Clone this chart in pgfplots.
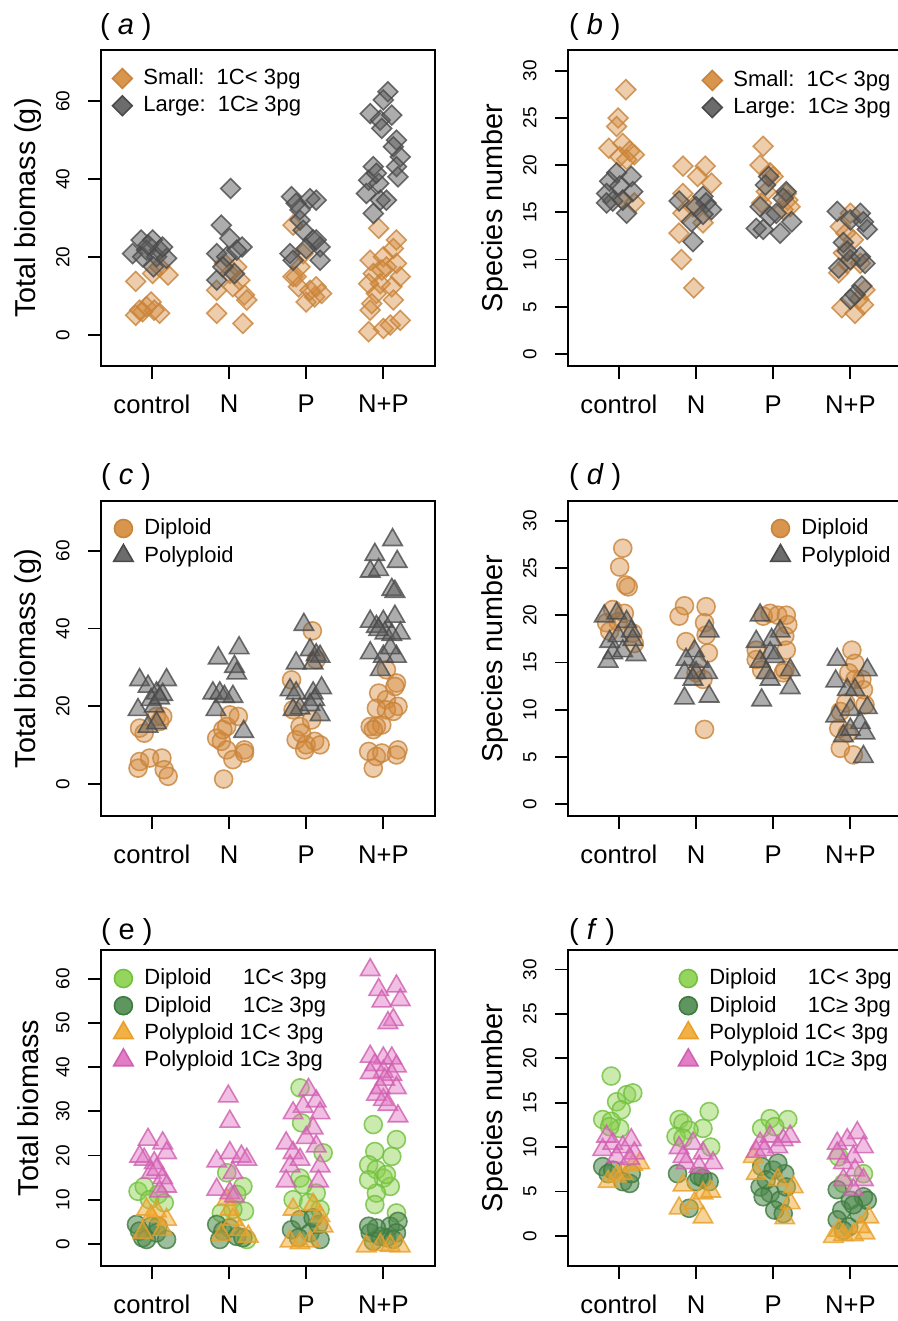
\documentclass[border=0pt]{standalone}
\usepackage{fontspec}
\setmainfont{Liberation Sans}
\usepackage{pgfplots}
\pgfplotsset{compat=1.18}
\definecolor{oE}{HTML}{C8843A}
\definecolor{oF}{HTML}{D4893A}
\definecolor{gE}{HTML}{4A4A4A}
\definecolor{gF}{HTML}{5C5C5C}
\definecolor{lgE}{HTML}{72C040}
\definecolor{lgF}{HTML}{8AD04C}
\definecolor{dgE}{HTML}{3F7A3F}
\definecolor{dgF}{HTML}{4E8A4E}
\definecolor{ppE}{HTML}{E8A02A}
\definecolor{ppF}{HTML}{F0A830}
\definecolor{pkE}{HTML}{D060B0}
\definecolor{pkF}{HTML}{E070C0}
\pgfplotsset{
  panel/.style={
    scale only axis, width=167pt, anchor=south west, clip mode=individual,
    xmin=0.34, xmax=4.67, xtick={1,2,3,4}, xticklabels={control,N,P,N+P},
    xtick pos=bottom, ytick pos=left, tick align=outside,
    major tick length=6.5pt,
    every tick/.style={black, line width=0.9pt},
    axis line style={line width=0.9pt},
    /pgf/number format/assume math mode=true,
    yticklabel style={rotate=90, anchor=south, inner sep=0pt, font=\fontsize{9.5}{10}\selectfont},
    xticklabel style={anchor=north, inner sep=0pt, font=\fontsize{12.8}{13}\selectfont},
    yticklabel shift=9pt, xticklabel shift=8pt,
    every axis y label/.style={at={(axis description cs:-0.2186,0.5)}, rotate=90, anchor=center, font=\fontsize{14.4}{15}\selectfont},
    legend style={draw=none, fill=none, font=\fontsize{11}{12}\selectfont, inner sep=0pt, row sep=1.6pt,
      nodes={inner sep=0pt}, /tikz/every odd column/.style={column sep=4.5pt}},
    legend cell align=left,
    legend image code/.code={\path[draw=none, fill=none] (-6pt,-6pt) rectangle (6pt,6pt); \draw[##1, fill opacity=0.9, draw opacity=1] plot coordinates {(0pt,0pt)};},
  },
  smallD/.style={only marks, mark=square*, mark options={rotate=45}, mark size=3.5pt, draw=oE, fill=oF, fill opacity=0.42, draw opacity=0.8, line width=0.8pt},
  largeD/.style={only marks, mark=square*, mark options={rotate=45}, mark size=3.5pt, draw=gE, fill=gF, fill opacity=0.5, draw opacity=0.8, line width=0.8pt},
  dipC/.style={only marks, mark=*, mark size=4.5pt, draw=oE, fill=oF, fill opacity=0.42, draw opacity=0.8, line width=0.8pt},
  polT/.style={only marks, mark=triangle*, mark size=5.6pt, draw=gE, fill=gF, fill opacity=0.5, draw opacity=0.8, line width=0.8pt},
  lgC/.style={only marks, mark=*, mark size=4.5pt, draw=lgE, fill=lgF, fill opacity=0.45, draw opacity=0.8, line width=0.8pt},
  dgC/.style={only marks, mark=*, mark size=4.5pt, draw=dgE, fill=dgF, fill opacity=0.55, draw opacity=0.8, line width=0.8pt},
  ppT/.style={only marks, mark=triangle*, mark size=5.6pt, draw=ppE, fill=ppF, fill opacity=0.5, draw opacity=0.8, line width=0.8pt},
  pkT/.style={only marks, mark=triangle*, mark size=5.6pt, draw=pkE, fill=pkF, fill opacity=0.45, draw opacity=0.8, line width=0.8pt},
}
\newcommand{\ttl}[1]{\fontsize{14.5}{15}\selectfont #1}
\begin{document}
\begin{tikzpicture}
\useasboundingbox (0,0) rectangle (449pt,660.5pt);
\clip (0,0) rectangle (449pt,660.5pt);
% ---------- (a)
\begin{axis}[panel, height=158pt, at={(50.5pt,477.5pt)}, ymin=-7.9, ymax=73.1, ytick={0,20,40,60},
  ylabel={Total biomass (g)}, legend style={at={(axis description cs:0.027,0.949)}, anchor=north west}]
\addplot[smallD] coordinates {(0.79,13.8)(0.84,6.4)(0.93,7.3)(0.99,8.5)(1.10,5.6)(0.79,5.1)(1.21,15.4)(1.10,17.5)(1.03,6.4)(0.88,6.0)(1.01,15.8)
 (1.84,5.6)(2.18,3.0)(1.84,11.5)(2.20,10.3)(2.14,14.1)(2.01,15.8)(2.10,17.5)(2.23,9.0)(2.05,12.4)(1.94,18.4)
 (2.83,28.2)(2.83,15.0)(2.90,12.4)(3.00,8.5)(3.11,9.8)(3.20,10.7)(2.92,17.5)(2.96,20.9)(3.05,11.5)(2.87,15.0)(3.13,12.4)
 (3.94,27.4)(4.17,24.4)(4.13,22.2)(3.83,19.2)(4.00,20.1)(4.22,15.0)(3.87,15.8)(4.04,17.5)(3.96,13.2)(3.81,13.2)(4.11,12.4)(3.91,10.7)(4.13,9.0)(3.83,6.4)(3.81,0.9)(4.00,1.7)(4.09,2.6)(4.22,3.8)(3.85,8.1)(3.98,16.7)(4.17,18.4)};
\addlegendentry{Small:\ \ 1C< 3pg}
\addplot[largeD] coordinates {(0.75,20.9)(0.86,24.4)(1.01,24.4)(0.93,21.8)(1.10,21.8)(1.06,20.1)(1.19,19.7)(1.02,17.5)(0.88,20.1)(1.14,22.6)(0.95,23.1)
 (2.02,37.6)(1.90,28.2)(2.01,24.8)(1.84,20.9)(1.97,20.1)(2.17,22.6)(1.84,14.1)(2.07,15.8)(1.92,17.5)(2.10,21.8)
 (2.81,35.5)(2.87,33.8)(3.05,35.0)(3.13,34.6)(2.92,29.5)(2.96,26.9)(3.09,24.4)(3.18,22.6)(2.79,20.9)(2.83,19.2)(3.18,19.2)(3.00,22.2)(2.92,32.1)(3.13,24.4)
 (4.06,62.4)(4.00,60.3)(3.83,56.8)(3.96,55.1)(4.11,56.4)(3.98,53.0)(4.17,50.0)(4.13,48.3)(4.22,45.7)(4.17,43.2)(4.19,40.6)(3.87,43.2)(3.81,39.7)(3.94,38.9)(3.78,36.3)(3.96,34.6)(3.87,31.2)(4.04,34.6)(3.91,41.5)};
\addlegendentry{Large:\ \ 1C≥ 3pg}
\node[anchor=west] at (axis description cs:-0.024,1.072) {\ttl{( \textit{a} )}};
\end{axis}
% ---------- (b)
\begin{axis}[panel, height=158pt, at={(284pt,477.5pt)}, ymin=-1.27, ymax=32.2, ytick={0,5,...,30},
  ylabel={Species number}, legend style={at={(axis description cs:0.395,0.943)}, anchor=north west}]
\addplot[smallD] coordinates {(1.09,28.0)(0.99,25.0)(0.97,24.1)(0.87,21.8)(1.05,22.3)(1.14,21.5)(1.20,21.1)(1.01,20.9)(1.10,20.6)(1.20,16.0)(1.05,16.3)
 (1.83,19.9)(2.12,19.9)(2.02,18.8)(2.20,18.1)(1.83,17.0)(1.96,15.6)(1.78,12.8)(1.81,10.0)(1.97,7.0)(2.09,13.9)(1.83,14.9)
 (2.87,22.0)(2.83,20.0)(2.96,19.2)(3.00,18.8)(3.17,17.0)(3.19,16.3)(3.22,15.6)(2.91,17.2)(3.13,15.3)(2.85,16.0)
 (3.89,4.9)(4.06,4.3)(4.17,5.2)(4.11,5.8)(3.85,8.6)(3.96,9.6)(3.91,10.7)(4.13,9.6)(4.04,12.1)(3.87,13.5)(4.00,14.9)(4.19,6.8)(3.94,12.8)};
\addlegendentry{Small:\ \ 1C< 3pg}
\addplot[largeD] coordinates {(0.88,18.3)(0.97,19.2)(1.16,18.8)(1.18,17.2)(0.84,17.0)(0.92,16.2)(1.10,14.9)(0.84,16.0)(1.01,17.8)(1.05,16.3)
 (1.78,16.2)(2.09,16.7)(2.13,16.0)(2.20,15.3)(2.00,15.6)(1.94,14.0)(1.96,11.9)(2.09,14.8)
 (2.94,18.8)(2.90,17.9)(3.17,17.2)(3.13,16.5)(2.83,15.6)(2.96,14.6)(3.04,14.9)(3.24,14.0)(2.78,13.3)(2.87,13.2)(3.09,12.8)
 (3.83,15.1)(4.00,14.2)(4.13,14.9)(4.22,13.2)(3.91,11.8)(3.85,9.1)(4.00,10.0)(4.19,9.6)(4.13,10.3)(4.15,7.2)(4.06,6.3)(4.00,5.8)(3.96,10.9)(4.17,14.0)};
\addlegendentry{Large:\ \ 1C≥ 3pg}
\node[anchor=west] at (axis description cs:-0.018,1.072) {\ttl{( \textit{b} )}};
\end{axis}
% ---------- (c)
\begin{axis}[panel, height=157.5pt, at={(50.5pt,252.5pt)}, ymin=-8.2, ymax=72.8, ytick={0,20,40,60},
  ylabel={Total biomass (g)}, legend style={at={(axis description cs:0.030,0.952)}, anchor=north west}]
\addplot[dipC] coordinates {(0.84,14.4)(0.90,13.1)(1.10,16.1)(1.14,17.4)(0.84,5.8)(0.82,4.1)(0.97,6.7)(1.13,6.7)(1.16,3.7)(1.21,2.0)(1.06,17.4)
 (1.93,1.3)(1.84,11.8)(1.90,11.0)(1.97,8.8)(2.05,6.3)(2.20,8.8)(2.20,8.0)(1.97,14.8)(2.01,17.8)(2.12,17.4)(1.92,14.0)
 (3.08,39.4)(2.81,26.8)(2.83,19.1)(2.92,14.8)(2.87,11.4)(3.00,10.1)(3.11,11.0)(2.98,8.8)(3.18,10.1)(3.07,16.5)(3.13,32.0)(2.94,13.1)
 (4.17,26.0)(4.15,25.1)(3.94,23.4)(4.04,21.7)(3.91,19.5)(4.04,19.1)(4.19,20.0)(4.13,18.7)(3.83,14.8)(3.91,14.8)(3.98,15.2)(4.04,29.4)(3.81,8.4)(3.91,7.1)(3.87,4.1)(3.98,8.0)(4.19,8.8)(4.17,7.5)(3.87,14.0)};
\addlegendentry{Diploid}
\addplot[polT] coordinates {(0.84,26.8)(0.82,19.1)(0.95,25.1)(1.06,23.4)(1.19,26.8)(1.14,23.0)(0.99,21.7)(1.03,20.0)(0.95,14.8)(1.06,15.7)(1.10,22.1)
 (1.86,32.4)(2.13,35.0)(2.07,30.2)(2.10,28.5)(1.79,23.4)(1.88,23.4)(2.05,22.5)(1.83,19.1)(2.19,13.5)(1.94,22.5)
 (2.97,41.0)(3.05,34.5)(3.13,33.2)(2.87,31.1)(3.18,32.8)(3.09,31.1)(2.79,24.2)(2.87,23.4)(3.09,23.4)(3.20,24.7)(3.11,21.7)(2.92,19.5)(3.05,20.4)(3.18,17.8)(2.83,19.1)
 (4.12,62.8)(3.89,59.0)(4.18,57.2)(3.83,54.7)(3.94,55.1)(4.11,50.0)(4.15,49.5)(3.83,41.8)(4.00,41.8)(4.15,43.1)(3.91,40.5)(4.02,38.8)(4.22,38.8)(4.11,38.4)(3.83,33.7)(4.00,32.8)(4.17,32.8)(3.96,29.4)(4.09,35.0)(3.94,39.7)};
\addlegendentry{Polyploid}
\node[anchor=west] at (axis description cs:-0.021,1.076) {\ttl{( \textit{c} )}};
\end{axis}
% ---------- (d)
\begin{axis}[panel, height=157.5pt, at={(284pt,252.5pt)}, ymin=-1.27, ymax=32.1, ytick={0,5,...,30},
  ylabel={Species number}, legend style={at={(axis description cs:0.599,0.952)}, anchor=north west}]
\addplot[dipC] coordinates {(1.05,27.1)(1.01,25.1)(1.12,23.0)(1.09,23.2)(1.07,20.2)(0.84,19.2)(0.88,18.3)(0.99,19.3)(1.18,18.1)(1.20,17.0)(0.92,20.6)
 (1.85,21.0)(1.78,19.9)(2.13,20.9)(2.11,19.2)(2.13,17.9)(1.87,17.2)(2.16,16.0)(2.00,13.9)(2.11,7.9)(2.09,13.2)
 (2.96,20.2)(3.06,20.0)(3.17,20.0)(3.19,19.0)(3.15,17.8)(3.17,16.3)(2.78,16.3)(2.78,15.3)(3.15,14.2)(2.85,14.2)(3.13,13.9)(2.87,19.9)
 (4.02,16.3)(4.06,14.9)(3.98,13.9)(4.15,13.2)(4.17,12.1)(3.94,10.7)(3.87,9.8)(3.85,8.0)(3.96,7.5)(3.87,5.9)(4.04,5.2)(4.19,10.5)(4.06,13.2)};
\addlegendentry{Diploid}
\addplot[polT] coordinates {(0.81,19.9)(0.97,20.2)(1.10,19.3)(0.88,17.2)(0.99,17.8)(1.16,18.3)(0.92,16.0)(0.86,15.1)(1.05,16.2)(1.22,15.8)(1.18,17.4)
 (2.17,18.3)(1.98,16.2)(1.87,15.3)(1.85,13.9)(2.00,13.9)(2.04,15.1)(1.96,13.2)(2.15,13.9)(1.85,11.2)(2.17,11.4)
 (2.83,20.0)(3.09,18.3)(2.98,17.4)(2.78,17.2)(2.96,16.0)(2.83,15.1)(3.02,15.6)(2.96,13.2)(3.22,14.2)(3.22,12.3)(2.85,11.0)(2.91,13.9)
 (3.83,15.3)(4.22,14.2)(3.81,13.0)(3.96,12.1)(4.06,12.1)(4.22,10.2)(3.81,9.3)(4.00,10.0)(4.13,8.6)(4.19,7.5)(3.91,7.2)(4.00,7.9)(4.17,5.0)};
\addlegendentry{Polyploid}
\node[anchor=west] at (axis description cs:-0.018,1.076) {\ttl{( \textit{d} )}};
\end{axis}
% ---------- (e)
\begin{axis}[panel, height=158pt, at={(50.5pt,27.5pt)}, ymin=-5.0, ymax=66.5, ytick={0,10,...,60},
  ylabel={Total biomass}, legend style={at={(axis description cs:0.030,0.949)}, anchor=north west}]
\addplot[lgC] coordinates {(0.82,11.9)(0.90,13.0)(1.08,11.2)(1.16,9.3)(0.97,10.0)
 (2.18,13.0)(1.97,16.1)(2.20,7.4)(2.05,7.8)(1.90,7.0)(2.23,1.0)(2.10,11.2)
 (2.92,35.3)(2.94,27.4)(3.22,20.6)(2.92,14.9)(2.83,10.0)(3.13,11.5)(3.03,9.3)(3.18,7.8)(2.96,13.4)
 (3.87,27.0)(4.17,23.6)(3.89,20.9)(4.11,19.8)(3.81,17.9)(3.91,16.8)(4.00,14.9)(4.09,13.0)(3.91,11.5)(3.89,8.9)(4.17,7.0)(4.04,15.7)(3.81,14.5)};
\addlegendentry{\rlap{Diploid}\phantom{Polyploid\ }\hspace{0.15em}1C< 3pg}
\addplot[dgC] coordinates {(0.80,4.4)(0.88,1.4)(0.99,4.0)(1.06,2.5)(1.19,1.0)(0.84,2.9)(0.93,1.0)(1.08,4.0)
 (1.84,4.4)(1.92,2.9)(2.01,3.6)(2.10,1.7)(2.18,1.4)(1.88,1.0)
 (2.81,3.2)(2.92,5.5)(3.05,2.5)(3.16,4.4)(3.18,1.0)(2.90,1.4)(3.09,5.9)
 (3.83,2.5)(3.96,1.7)(4.09,4.0)(4.19,5.1)(3.87,0.6)(4.04,1.4)(4.17,2.5)(3.91,3.6)(4.13,1.0)(3.81,4.0)};
\addlegendentry{\rlap{Diploid}\phantom{Polyploid\ }\hspace{0.15em}1C≥ 3pg}
\addplot[ppT] coordinates {(0.93,7.8)(1.06,7.4)(1.19,5.5)(1.14,3.2)(0.88,2.5)(0.99,6.3)
 (2.01,7.8)(2.05,5.5)(2.14,3.2)(1.90,2.1)(2.25,1.7)(1.97,10.0)
 (2.83,7.8)(3.09,8.9)(3.18,6.3)(3.22,4.0)(2.79,0.6)(2.92,0.2)(3.05,0.6)
 (3.78,-0.5)(3.96,-0.2)(4.22,-0.5)(4.09,-0.4)};
\addlegendentry{Polyploid 1C< 3pg}
\addplot[pkT] coordinates {(0.95,23.6)(1.14,22.8)(1.19,20.6)(0.90,19.1)(1.03,18.3)(0.99,16.1)(1.14,14.9)(1.19,13.0)(1.10,11.9)(0.84,19.8)(1.06,16.8)
 (1.99,33.4)(2.01,27.7)(1.84,18.7)(2.01,20.6)(2.16,19.8)(2.23,19.1)(2.05,16.1)(1.84,12.3)(2.01,11.5)(2.07,10.8)
 (3.03,34.9)(2.96,31.1)(3.13,32.3)(2.83,29.6)(3.18,29.6)(3.09,26.2)(3.00,24.0)(2.74,22.8)(2.83,20.6)(3.13,22.1)(3.18,17.6)(2.79,17.6)(2.74,14.2)(3.16,14.2)(2.92,19.1)
 (3.83,62.0)(3.94,57.5)(4.17,58.3)(3.98,54.9)(4.22,55.2)(4.13,50.7)(4.06,50.0)(3.83,42.4)(4.00,42.0)(4.11,42.0)(3.89,40.5)(4.17,40.2)(4.00,39.0)(4.11,38.3)(3.83,38.7)(4.02,37.2)(4.17,35.3)(3.91,33.8)(4.00,32.6)(4.06,31.5)(4.19,28.9)(3.96,35.3)};
\addlegendentry{Polyploid 1C≥ 3pg}
\node[anchor=west] at (axis description cs:-0.021,1.056) {\ttl{( e )}};
\end{axis}
% ---------- (f)
\begin{axis}[panel, height=158pt, at={(284pt,27.5pt)}, ymin=-3.4, ymax=32.2, ytick={0,5,...,30},
  ylabel={Species number}, legend style={at={(axis description cs:0.323,0.949)}, anchor=north west}]
\addplot[lgC] coordinates {(0.90,18.0)(0.97,15.1)(1.10,15.9)(1.18,16.1)(1.03,14.2)(0.79,13.1)(0.90,12.9)(1.01,12.1)(0.88,12.3)
 (1.78,13.1)(1.83,12.7)(2.17,14.0)(2.09,12.1)(1.91,11.9)(1.74,11.2)(2.19,10.0)(1.83,11.0)
 (2.85,12.1)(2.96,13.2)(3.19,13.1)(3.02,12.3)
 (3.85,8.9)(4.17,7.0)(3.91,5.9)};
\addlegendentry{\rlap{Diploid}\phantom{Polyploid\ }\hspace{0.15em}1C< 3pg}
\addplot[dgC] coordinates {(0.79,7.8)(0.86,7.0)(0.92,7.4)(1.05,6.1)(1.14,5.9)(1.16,7.0)
 (1.76,7.0)(2.00,6.1)(2.09,6.5)(2.17,6.1)(1.91,3.1)(2.04,6.7)
 (2.85,7.8)(3.00,7.4)(3.15,7.0)(2.83,5.5)(2.96,4.8)(3.09,4.0)(3.17,5.5)(3.02,2.9)(2.91,6.3)(3.13,2.5)(3.06,8.2)(2.87,4.4)
 (3.83,5.2)(4.00,4.0)(4.17,4.4)(3.89,2.9)(3.83,1.8)(3.98,1.0)(4.11,2.5)(4.22,4.0)(3.91,0.6)(4.04,3.5)};
\addlegendentry{\rlap{Diploid}\phantom{Polyploid\ }\hspace{0.15em}1C≥ 3pg}
\addplot[ppT] coordinates {(0.86,6.1)(0.97,6.7)(1.18,8.0)(1.27,8.2)(1.05,7.0)
 (1.83,5.7)(2.09,4.8)(2.19,5.0)(1.78,3.1)(2.09,2.1)(1.98,3.7)
 (2.74,8.9)(2.78,7.0)(3.06,6.3)(3.22,3.7)(3.15,2.0)(3.26,5.5)
 (3.78,-0.1)(3.91,0.1)(4.04,0.1)(4.19,0.3)(4.13,1.0)(3.85,0.6)(4.24,2.1)};
\addlegendentry{Polyploid 1C< 3pg}
\addplot[pkT] coordinates {(0.79,9.7)(0.92,10.4)(1.05,10.0)(1.16,10.8)(1.20,9.3)(0.97,8.9)(0.84,11.2)(1.14,8.7)
 (1.78,9.9)(1.96,10.4)(2.09,9.3)(2.22,8.2)(1.87,8.2)(2.04,7.8)(1.83,8.9)
 (2.83,10.4)(2.96,11.2)(3.13,10.8)(3.22,11.2)(3.06,10.0)(2.78,9.5)(2.89,9.7)
 (4.09,11.6)(3.96,10.8)(3.83,10.4)(4.17,10.0)(4.04,8.9)(3.91,8.2)(4.06,7.4)(3.91,6.3)(4.17,6.3)(4.04,5.2)(3.83,9.3)};
\addlegendentry{Polyploid 1C≥ 3pg}
\node[anchor=west] at (axis description cs:-0.018,1.056) {\ttl{( \textit{f} )}};
\end{axis}
\end{tikzpicture}
\end{document}
